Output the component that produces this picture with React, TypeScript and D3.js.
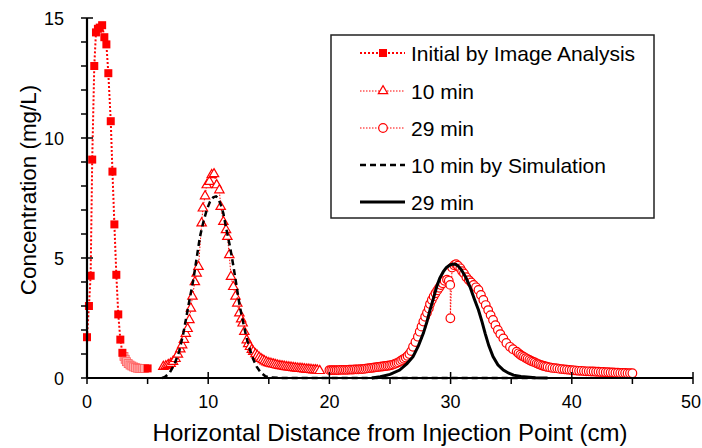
import * as d3 from "d3";
import { useEffect, useRef } from "react";

// Initial by image analysis (filled squares)
const initialX = [0, 0.16, 0.3, 0.43, 0.6, 0.74, 0.9, 1.05, 1.25, 1.43, 1.6, 1.76, 1.96, 2.1, 2.26, 2.42, 2.58, 2.75, 2.92];
const initialY = [1.7, 3.0, 4.26, 9.1, 13.0, 14.4, 14.55, 14.6, 14.7, 14.2, 13.9, 12.7, 10.7, 8.6, 6.4, 4.3, 2.65, 1.6, 1.05];
// tail of the initial profile, drawn pale in the original
const initialTailX = [3.05, 3.15, 3.25, 3.4, 3.55, 3.7, 3.85, 4.0, 4.15, 4.3, 4.45, 4.6, 4.75];
const initialTailY = [0.9, 0.78, 0.68, 0.6, 0.54, 0.5, 0.46, 0.43, 0.41, 0.4, 0.4, 0.4, 0.4];
const initialEndX = [5.0];
const initialEndY = [0.4];

// 10 min measured (open triangles)
const min10X = [6.3, 6.5, 6.7, 6.9, 7.1, 7.3, 7.5, 7.7, 7.85, 8.0, 8.15, 8.3, 8.45, 8.57, 8.7, 8.9, 9.05, 9.2,
  9.46, 9.56, 9.74, 9.88, 10.1, 10.29, 10.48, 10.7, 10.92, 11.03, 11.25, 11.47, 11.58, 11.74, 11.88, 12.07,
  12.25, 12.4, 12.57, 12.72, 12.84, 12.98, 13.18, 13.3, 13.45, 13.6, 13.72,
  13.9, 14.05, 14.2, 14.35, 14.5, 14.65, 14.8, 14.95, 15.1, 15.25, 15.4, 15.55, 15.7, 15.85, 16.0, 16.15,
  16.3, 16.45, 16.6, 16.75, 16.9, 17.05, 17.2, 17.35, 17.5, 17.65, 17.8, 17.95, 18.1, 18.25, 18.4, 18.55,
  18.7, 18.85, 19.0, 19.2];
const min10Y = [0.47, 0.5, 0.55, 0.6, 0.68, 0.8, 0.98, 1.2, 1.37, 1.6, 1.85, 2.05, 2.42, 2.9, 3.4, 4.0, 4.36, 4.64,
  6.45, 7.07, 7.58, 8.04, 8.18, 8.46, 8.5, 8.04, 7.83, 7.14, 6.51, 6.17, 5.89, 5.13, 4.22, 3.8,
  3.4, 3.11, 2.7, 2.45, 2.28, 1.93, 1.58, 1.42, 1.3, 1.18, 1.1,
  1.0, 0.93, 0.86, 0.8, 0.75, 0.7, 0.66, 0.63, 0.61, 0.59, 0.57, 0.55, 0.53, 0.51, 0.5, 0.49,
  0.47, 0.46, 0.45, 0.44, 0.43, 0.42, 0.41, 0.4, 0.39, 0.39, 0.38, 0.37, 0.36, 0.36, 0.35, 0.34,
  0.33, 0.33, 0.32, 0.3];

// 29 min measured (open circles)
const min29X = [20.0, 20.15, 20.3, 20.45, 20.6, 20.75, 20.9, 21.05, 21.2, 21.35, 21.5, 21.65, 21.8, 21.95, 22.1,
  22.25, 22.4, 22.55, 22.7, 22.85, 23.0, 23.15, 23.3, 23.45, 23.6, 23.75, 23.9, 24.05, 24.2, 24.35, 24.5,
  24.65, 24.8, 24.95, 25.1, 25.25, 25.4, 25.55, 25.7, 25.85, 26.0, 26.15, 26.3, 26.45, 26.6, 26.75,
  26.9, 27.1, 27.3, 27.45, 27.6, 27.75, 27.9, 28.05, 28.2, 28.3, 28.45, 28.6, 28.75, 28.9,
  29.05, 29.2, 29.35, 29.5, 29.7, 29.85, 29.97, 29.98, 30.12, 30.3, 30.45, 30.6, 30.8, 30.95, 31.1, 31.3, 31.5,
  31.7, 31.9, 32.1, 32.3, 32.5, 32.7, 32.9, 33.1, 33.3, 33.5, 33.7, 33.9, 34.1, 34.35, 34.6, 34.9, 35.15,
  35.45, 35.6, 35.75, 35.9, 36.05, 36.2, 36.35, 36.5, 36.65, 36.8, 36.95, 37.1, 37.25, 37.4, 37.55, 37.7,
  37.85, 38.0, 38.2, 38.4, 38.6, 38.8, 39.0, 39.2, 39.4, 39.6, 39.8, 40.0, 40.2, 40.4, 40.6, 40.8, 41.0,
  41.2, 41.4, 41.6, 41.8, 42.0, 42.2, 42.4, 42.6, 42.8, 43.0, 43.2, 43.4, 43.6, 43.8, 44.0, 44.2, 44.4,
  44.6, 44.8, 45.0];
const min29Y = [0.33, 0.33, 0.33, 0.33, 0.33, 0.33, 0.34, 0.34, 0.34, 0.34, 0.34, 0.35, 0.35, 0.35, 0.36,
  0.36, 0.36, 0.37, 0.37, 0.38, 0.39, 0.4, 0.41, 0.42, 0.43, 0.44, 0.45, 0.46, 0.47, 0.48, 0.49,
  0.5, 0.51, 0.52, 0.54, 0.56, 0.59, 0.62, 0.65, 0.7, 0.75, 0.8, 0.85, 0.92, 1.0, 1.12,
  1.3, 1.5, 1.72, 1.93, 2.14, 2.35, 2.55, 2.72, 2.9, 3.08, 3.25, 3.4, 3.53, 3.65,
  3.76, 3.87, 3.95, 4.05, 4.1, 4.05, 3.88, 2.49, 4.6, 4.7, 4.74, 4.68, 4.57, 4.45, 4.36, 4.2, 4.08,
  3.98, 3.88, 3.78, 3.67, 3.46, 3.25, 3.04, 2.83, 2.62, 2.42, 2.2, 2.0, 1.83, 1.65, 1.46, 1.3, 1.2,
  1.1, 1.03, 0.97, 0.92, 0.88, 0.83, 0.79, 0.75, 0.71, 0.68, 0.65, 0.61, 0.58, 0.55, 0.52, 0.5,
  0.48, 0.46, 0.44, 0.42, 0.41, 0.4, 0.38, 0.37, 0.36, 0.35, 0.34, 0.33, 0.32, 0.31, 0.3, 0.3, 0.29,
  0.28, 0.28, 0.27, 0.27, 0.26, 0.26, 0.25, 0.25, 0.24, 0.24, 0.23, 0.23, 0.22, 0.22, 0.21, 0.21, 0.21,
  0.2, 0.2, 0.2];

// 10 min by simulation (dashed)
const sim10X = [6.2, 6.44, 6.8, 7.2, 7.6, 7.95, 8.4, 8.77, 9.05, 9.32, 9.6, 9.88, 10.15, 10.42, 10.65, 10.83,
  11.05, 11.25, 11.5, 11.8, 12.1, 12.35, 12.6, 12.9, 13.15, 13.45, 13.7, 14.0, 14.35, 14.7, 15.1, 16, 20, 25, 30, 37];
const sim10Y = [0, 0.05, 0.2, 0.55, 1.1, 1.86, 3.1, 4.08, 5.0, 5.89, 6.5, 7.0, 7.35, 7.53, 7.57, 7.49,
  7.2, 6.86, 6.2, 5.47, 4.6, 3.8, 3.0, 2.28, 1.7, 1.17, 0.8, 0.47, 0.22, 0.08, 0.02, 0, 0, 0, 0, 0];

// 29 min by simulation (solid)
const sim29X = [23.5, 24.2, 25.0, 25.8, 26.4, 26.9, 27.35, 27.75, 28.05, 28.3, 28.6, 28.85, 29.1, 29.4, 29.65,
  29.95, 30.2, 30.45, 30.65, 30.9, 31.25, 31.6, 31.95, 32.3, 32.6, 32.85, 33.15, 33.5, 33.9, 34.35, 34.8,
  35.2, 35.8, 36.3, 37, 38];
const sim29Y = [0, 0.05, 0.15, 0.33, 0.6, 0.89, 1.35, 1.86, 2.35, 2.83, 3.35, 3.8, 4.15, 4.43, 4.6,
  4.71, 4.75, 4.73, 4.65, 4.5, 4.2, 3.8, 3.3, 2.83, 2.33, 1.86, 1.35, 0.89, 0.55, 0.33, 0.2,
  0.12, 0.06, 0.04, 0.01, 0];

const xTicks = [0, 10, 20, 30, 40, 50];
const xMinorTicks = [5, 15, 25, 35, 45];
const yTicks = [0, 5, 10, 15];
const yMinorTicks = [1, 2, 3, 4, 6, 7, 8, 9, 11, 12, 13, 14];

const legendLabels = ["Initial by Image Analysis", "10 min", "29 min", "10 min by Simulation", "29 min"];

const RED = "#ff0000";
const FONT = "'Liberation Sans', Arial, sans-serif";

const zip = (xs: number[], ys: number[]) => xs.map((x, i) => [x, ys[i]] as [number, number]);

const App = () => {
  const svgRef = useRef<SVGSVGElement>(null);
  const width = 702;
  const height = 448;
  const margin = { left: 87, right: 9, top: 18, bottom: 70 };

  useEffect(() => {
    const svg = d3.select(svgRef.current).attr("width", width).attr("height", height);
    svg.selectAll("*").remove();

    const x = d3.scaleLinear().domain([0, 50]).range([margin.left, width - margin.right]);
    const y = d3.scaleLinear().domain([0, 15]).range([height - margin.bottom, margin.top]);
    const line = d3.line<[number, number]>().x(d => x(d[0])).y(d => y(d[1]));

    // series lines
    const initAll = zip(initialX.concat(initialTailX, initialEndX), initialY.concat(initialTailY, initialEndY));
    svg.append("path").attr("d", line(initAll)).attr("fill", "none")
      .attr("stroke", RED).attr("stroke-width", 2).attr("stroke-dasharray", "2,2");
    svg.append("path").attr("d", line(zip(min10X, min10Y))).attr("fill", "none")
      .attr("stroke", RED).attr("stroke-width", 1).attr("stroke-dasharray", "1.5,1.5");
    svg.append("path").attr("d", line(zip(min29X, min29Y))).attr("fill", "none")
      .attr("stroke", RED).attr("stroke-width", 1).attr("stroke-dasharray", "1.5,1.5");

    // markers
    const sq = 8;
    svg.append("g").selectAll("rect").data(zip(initialTailX, initialTailY)).enter().append("rect")
      .attr("x", d => x(d[0]) - sq / 2).attr("y", d => y(d[1]) - sq / 2)
      .attr("width", sq).attr("height", sq).attr("fill", "#ffb0b0").attr("stroke", "#ff6060").attr("stroke-width", 0.8);
    svg.append("g").selectAll("rect").data(zip(initialX.concat(initialEndX), initialY.concat(initialEndY))).enter().append("rect")
      .attr("x", d => x(d[0]) - sq / 2).attr("y", d => y(d[1]) - sq / 2)
      .attr("width", sq).attr("height", sq).attr("fill", RED);

    const tri = d3.symbol().type(d3.symbolTriangle).size(38);
    svg.append("g").selectAll("path").data(zip(min10X, min10Y)).enter().append("path")
      .attr("d", tri()).attr("transform", d => `translate(${x(d[0])},${y(d[1])})`)
      .attr("fill", "white").attr("stroke", RED).attr("stroke-width", 1.2);

    svg.append("g").selectAll("circle").data(zip(min29X, min29Y)).enter().append("circle")
      .attr("cx", d => x(d[0])).attr("cy", d => y(d[1])).attr("r", 4.3)
      .attr("fill", "white").attr("stroke", RED).attr("stroke-width", 1.2);

    // simulations on top
    svg.append("path").attr("d", line(zip(sim10X, sim10Y))).attr("fill", "none")
      .attr("stroke", "black").attr("stroke-width", 2.5).attr("stroke-dasharray", "6,4");
    svg.append("path").attr("d", line(zip(sim29X, sim29Y))).attr("fill", "none")
      .attr("stroke", "black").attr("stroke-width", 3);

    // axes
    const x0 = x(0), y0 = y(0);
    svg.append("line").attr("x1", x0).attr("x2", x(50)).attr("y1", y0).attr("y2", y0)
      .attr("stroke", "black").attr("stroke-width", 2.2);
    svg.append("line").attr("x1", x0).attr("x2", x0).attr("y1", y0).attr("y2", y(15))
      .attr("stroke", "black").attr("stroke-width", 2.2);

    xTicks.forEach(t => {
      svg.append("line").attr("x1", x(t)).attr("x2", x(t)).attr("y1", y0 - 6).attr("y2", y0 + 6)
        .attr("stroke", "black").attr("stroke-width", 1.5);
      const last = t === 50;
      svg.append("text").attr("x", last ? 701 : x(t)).attr("y", 408).attr("text-anchor", last ? "end" : "middle")
        .attr("font-family", FONT).attr("font-size", 18).text(t);
    });
    xMinorTicks.forEach(t => {
      svg.append("line").attr("x1", x(t)).attr("x2", x(t)).attr("y1", y0).attr("y2", y0 + 6)
        .attr("stroke", "black").attr("stroke-width", 1.5);
    });
    yTicks.forEach(t => {
      svg.append("line").attr("x1", x0 - 6).attr("x2", x0 + 6).attr("y1", y(t)).attr("y2", y(t))
        .attr("stroke", "black").attr("stroke-width", 1.5);
      svg.append("text").attr("x", 64).attr("y", y(t) + 6.5).attr("text-anchor", "end")
        .attr("font-family", FONT).attr("font-size", 18).text(t);
    });
    yMinorTicks.forEach(t => {
      svg.append("line").attr("x1", x0 - 6).attr("x2", x0).attr("y1", y(t)).attr("y2", y(t))
        .attr("stroke", "black").attr("stroke-width", 1.5);
    });

    svg.append("text").attr("x", 390).attr("y", 441).attr("text-anchor", "middle")
      .attr("font-family", FONT).attr("font-size", 24).text("Horizontal Distance from Injection Point (cm)");
    svg.append("text").attr("transform", "translate(36,190) rotate(-90)").attr("text-anchor", "middle")
      .attr("font-family", FONT).attr("font-size", 22.4).text("Concentration (mg/L)");

    // legend
    const lg = svg.append("g");
    lg.append("rect").attr("x", 331).attr("y", 35).attr("width", 323).attr("height", 183)
      .attr("fill", "white").attr("stroke", "#222").attr("stroke-width", 1.5);
    const rowY = [53, 91, 128, 165, 202];
    const lx1 = 360, lx2 = 405, lm = 383;
    legendLabels.forEach((lab, i) => {
      const ry = rowY[i];
      const ln = lg.append("line").attr("x1", lx1).attr("x2", lx2).attr("y1", ry).attr("y2", ry);
      if (i === 0) ln.attr("stroke", RED).attr("stroke-width", 2).attr("stroke-dasharray", "2,2");
      else if (i < 3) ln.attr("stroke", RED).attr("stroke-width", 1).attr("stroke-dasharray", "1.5,1.5");
      else if (i === 3) ln.attr("stroke", "black").attr("stroke-width", 2.5).attr("stroke-dasharray", "6,4");
      else ln.attr("stroke", "black").attr("stroke-width", 3);
      if (i === 0) lg.append("rect").attr("x", lm - 4).attr("y", ry - 4).attr("width", 8).attr("height", 8).attr("fill", RED);
      if (i === 1) lg.append("path").attr("d", tri()).attr("transform", `translate(${lm},${ry})`)
        .attr("fill", "white").attr("stroke", RED).attr("stroke-width", 1.2);
      if (i === 2) lg.append("circle").attr("cx", lm).attr("cy", ry).attr("r", 4.3)
        .attr("fill", "white").attr("stroke", RED).attr("stroke-width", 1.2);
      lg.append("text").attr("x", 411).attr("y", ry + 7.5).attr("font-family", FONT)
        .attr("font-size", 21).text(lab);
    });
  });

  return (
    <div style={{ position: "absolute", left: 0, top: 0 }}>
      <svg ref={svgRef} style={{ display: "block" }} />
    </div>
  );
};

export default App;
